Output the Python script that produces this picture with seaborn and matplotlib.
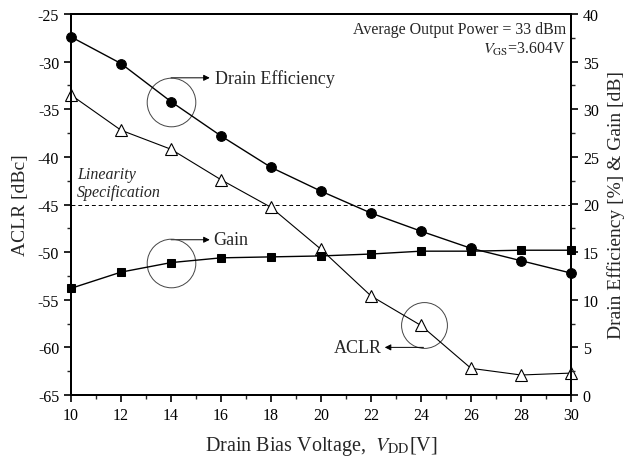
import matplotlib
matplotlib.use("Agg")
import matplotlib.pyplot as plt
import seaborn as sns
import pandas as pd
from matplotlib.ticker import MultipleLocator

vdd = [10, 12, 14, 16, 18, 20, 22, 24, 26, 28, 30]
aclr = [-33.5, -37.2, -39.2, -42.4, -45.3, -49.7, -54.6, -57.7, -62.2, -62.9, -62.7]
drain_eff = [37.6, 34.8, 30.8, 27.2, 23.9, 21.4, 19.1, 17.2, 15.4, 14.1, 12.8]
gain = [11.2, 12.9, 13.9, 14.4, 14.5, 14.6, 14.8, 15.1, 15.1, 15.2, 15.2]
spec_level = -45

df = pd.DataFrame({"vdd": vdd, "aclr": aclr, "de": drain_eff, "gain": gain})

sns.set_style("ticks")
plt.rcParams["font.family"] = ["Liberation Serif", "DejaVu Serif"]
plt.rcParams["mathtext.fontset"] = "stix"
plt.rcParams["axes.unicode_minus"] = False

fig = plt.figure(figsize=(6.27, 4.64), dpi=100)
ax = fig.add_axes([71/627, 1-396/464, 500/627, 381/464])
ax2 = ax.twinx()

sns.lineplot(data=df, x="vdd", y="aclr", ax=ax, color="black", lw=0.8,
             marker="^", markersize=9, markerfacecolor="white",
             markeredgecolor="black", markeredgewidth=0.8, clip_on=False, zorder=5)
sns.lineplot(data=df, x="vdd", y="de", ax=ax2, color="black", lw=1.0,
             marker="o", markersize=7, markerfacecolor="black",
             markeredgecolor="black", clip_on=False, zorder=5)
sns.lineplot(data=df, x="vdd", y="gain", ax=ax2, color="black", lw=1.0,
             marker="s", markersize=6, markerfacecolor="black",
             markeredgecolor="black", clip_on=False, zorder=5)

ax.axhline(spec_level, color="black", lw=0.7, ls=(0, (4, 3)))

ax.set_xlim(10, 30)
ax.set_ylim(-65, -25)
ax2.set_ylim(0, 40)
ax.xaxis.set_major_locator(MultipleLocator(2))
ax.xaxis.set_minor_locator(MultipleLocator(1))
ax.yaxis.set_major_locator(MultipleLocator(5))
ax.yaxis.set_minor_locator(MultipleLocator(2.5))
ax2.yaxis.set_major_locator(MultipleLocator(5))
ax2.yaxis.set_minor_locator(MultipleLocator(2.5))

for a in (ax, ax2):
    for s in a.spines.values():
        s.set_linewidth(1.4)
        s.set_color("black")
    a.tick_params(which="major", direction="out", length=5, width=1.2,
                  labelsize=11.5, colors="black")
    a.tick_params(which="minor", direction="out", length=3, width=1.0)

ax.set_xlabel(r"Drain Bias Voltage,  $V_{\rm DD}$[V]", fontsize=14.5, labelpad=8)
ax.set_ylabel("ACLR [dBc]", fontsize=14, labelpad=6)
ax2.set_ylabel("Drain Efficiency [%] & Gain [dB]", fontsize=14, labelpad=6)

# annotation circles
circ = dict(marker="o", markersize=35, markerfacecolor="none",
            markeredgecolor="#444444", markeredgewidth=0.7, ls="none")
ax2.plot([14], [drain_eff[2]], **circ)
ax2.plot([14], [gain[2]], **circ)
ax.plot([24.1], [aclr[7]], **{**circ, "markersize": 33})

arrow = dict(arrowstyle="-|>", color="black", lw=0.7, mutation_scale=9,
             shrinkA=0, shrinkB=0)
ax.annotate("", xy=(15.55, -31.7), xytext=(14.0, -31.7), arrowprops=arrow)
ax.text(15.75, -31.7, "Drain Efficiency", fontsize=13, va="center", ha="left")
ax.annotate("", xy=(15.55, -48.7), xytext=(14.0, -48.7), arrowprops=arrow)
ax.text(15.7, -48.7, "Gain", fontsize=13, va="center", ha="left")
ax.annotate("", xy=(22.55, -60.0), xytext=(24.1, -60.0), arrowprops=arrow)
ax.text(22.45, -60.0, "ACLR", fontsize=13, va="center", ha="right")

ax.text(10.25, -41.8, "Linearity", fontsize=11.5, style="italic", va="center")
ax.text(10.25, -43.7, "Specification", fontsize=11.5, style="italic", va="center")

ax.text(29.8, -26.6, "Average Output Power = 33 dBm", fontsize=11.5,
        ha="right", va="center")
ax.text(29.8, -28.6, r"$V_{\rm GS}$=3.604V", fontsize=11.5, ha="right", va="center")

fig.savefig("out.png", dpi=100)
